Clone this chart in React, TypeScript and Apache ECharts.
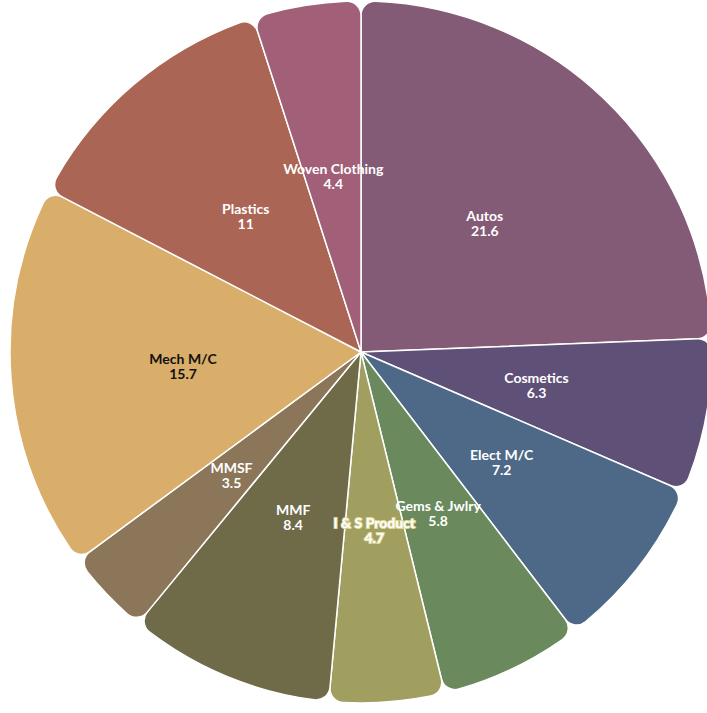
import React, { useEffect, useRef } from "react";
import * as echarts from "echarts";

const categories = ["Autos", "Cosmetics", "Elect M/C", "Gems & Jwlry", "I & S Product", "MMF", "MMSF", "Mech M/C", "Plastics", "Woven Clothing"];
const values = [21.6, 6.3, 7.2, 5.8, 4.7, 8.4, 3.5, 15.7, 11, 4.4];
const colors = ["#845B77", "#5F5077", "#4E6987", "#6A8A5D", "#A09F60", "#6F6A48", "#8B7659", "#D9AD6A", "#AA6555", "#A15F78"];
const labelColors = ["#fff", "#fff", "#fff", "#fff", "#fff", "#fff", "#fff", "#111", "#fff", "#fff"];

export default function App() {
  const ref = useRef<HTMLDivElement>(null);
  useEffect(() => {
    const chart = echarts.init(ref.current!, undefined, { renderer: "svg" });
    chart.setOption({
      animation: false,
      series: [
        {
          type: "pie",
          center: [361, 352],
          radius: [0, 351],
          startAngle: 90,
          clockwise: true,
          avoidLabelOverlap: false,
          labelLayout: { hideOverlap: false },
          itemStyle: { borderColor: "#fff", borderWidth: 1.5, borderRadius: 14 },
          label: {
            show: true,
            position: "inside",
            formatter: "{b}\n{c}",
            fontFamily: "Lato",
            fontWeight: "bold",
            fontSize: 14,
            lineHeight: 15,
          },
          labelLine: { show: false },
          data: categories.map((c, i) => ({
            name: c,
            value: values[i],
            itemStyle: { color: colors[i] },
            label: {
              color: labelColors[i],
              textBorderColor: i === 4 ? "#ddd69a" : "transparent",
              textBorderWidth: i === 4 ? 2 : 0,
            },
          })),
        },
      ],
    });
    return () => chart.dispose();
  }, []);
  return <div ref={ref} style={{ position: "absolute", left: 0, top: 0, width: 707, height: 713 }} />;
}
